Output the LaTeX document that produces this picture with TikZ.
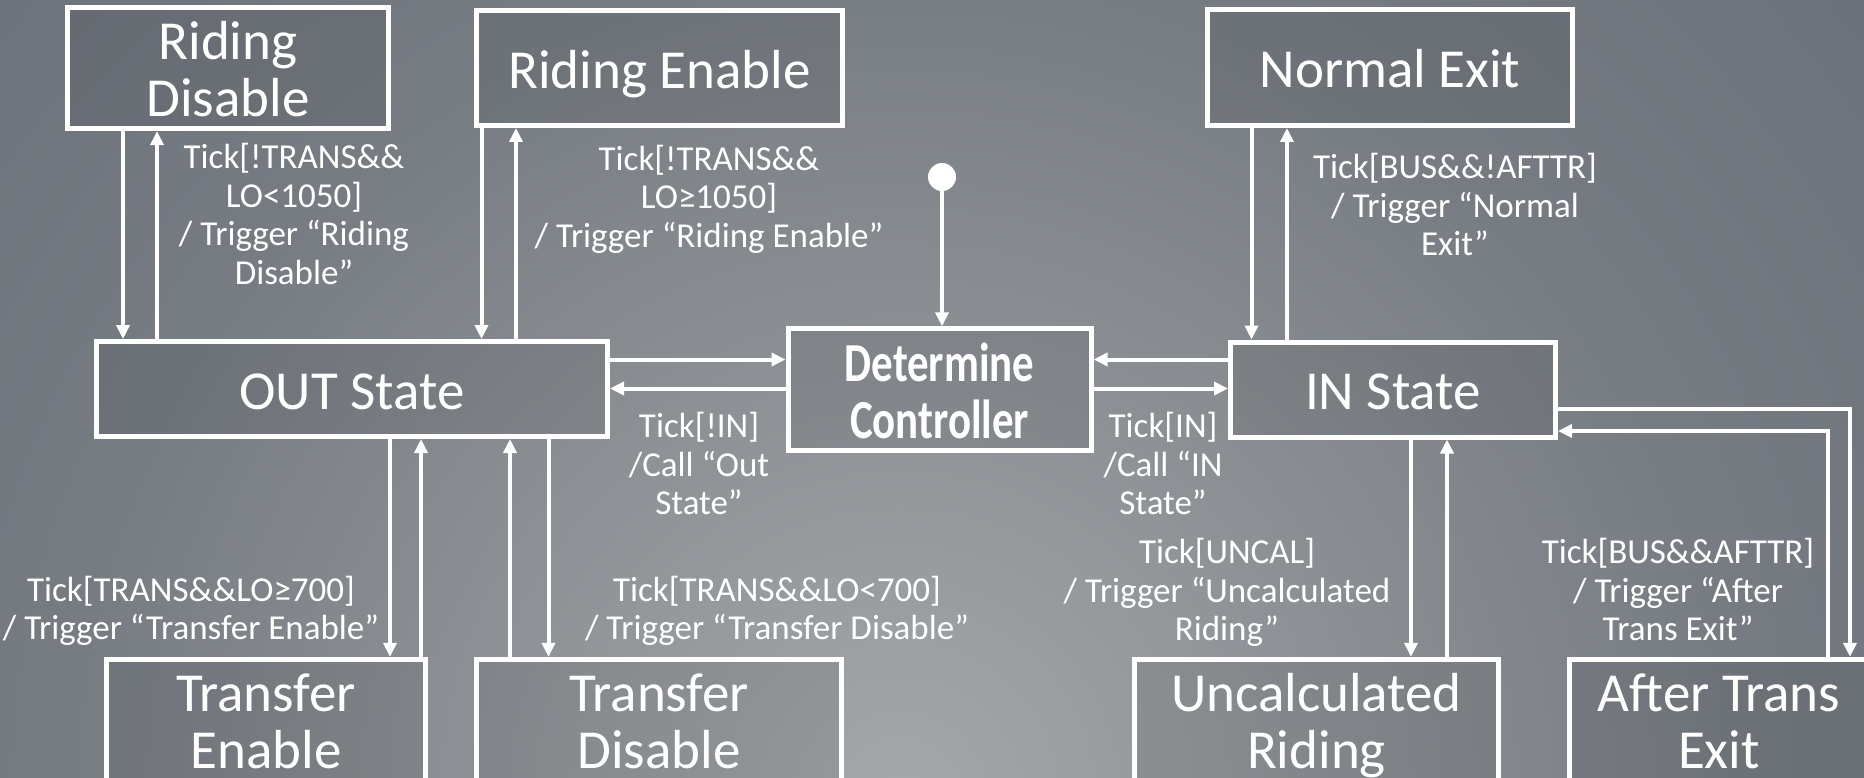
\documentclass[tikz,border=0pt]{standalone}
\usepackage{fontspec}
\setmainfont{Carlito}
\usepackage{graphicx}
\usetikzlibrary{arrows.meta}
\definecolor{bgA}{HTML}{A4A8AA}
\definecolor{bgB}{HTML}{8E9296}
\definecolor{bgC}{HTML}{777C83}
\definecolor{bgD}{HTML}{686E76}
\definecolor{bgE}{HTML}{5E646C}
\definecolor{bgF}{HTML}{596068}
\pgfdeclareradialshading{bgshade}{\pgfpoint{0bp}{0bp}}{color(0bp)=(bgA); color(8bp)=(bgB); color(16bp)=(bgC); color(27bp)=(bgD); color(40bp)=(bgE); color(50bp)=(bgF)}
\newcommand\boxfont{\fontsize{55}{57}\selectfont}
\newcommand\lblfont{\fontsize{35}{38.5}\selectfont}
\newcommand\bst{\rule{0pt}{0.95em}}
\newcommand\bsd{\rule[-0.22em]{0pt}{0.22em}}
\newcommand\lst{\rule{0pt}{0.8em}}
\newcommand\lsd{\rule[-0.25em]{0pt}{0.25em}}
\newcommand\cond[1]{\scalebox{0.78}[1]{#1}}
\tikzset{
  statebox/.style={draw=white, line width=5pt, fill=black, fill opacity=0.08, text opacity=1, text=white, font=\boxfont, align=center, inner sep=0pt},
  lbl/.style={text=white, font=\lblfont, align=center, inner sep=0pt},
  arr/.style={draw=white, line width=4pt, -{Triangle[length=14pt,width=13pt]}}
}
\begin{document}
\begin{tikzpicture}[x=1pt,y=-1pt]
\useasboundingbox (0,0) rectangle (1864,778);
\clip (0,0) rectangle (1864,778);
\shade[shading=bgshade] (900,800) circle [radius=1300pt];

% states
\node[statebox, minimum width=321pt, minimum height=115pt] (RD) at (228,68) {\bst Riding\\Disable\bsd};
\node[statebox, minimum width=366pt, minimum height=115pt] (RE) at (659.5,68) {\bst Riding Enable\bsd};
\node[statebox, minimum width=365pt, minimum height=116pt] (NE) at (1390,67.5) {\bst Normal Exit\bsd};
\node[statebox, minimum width=511pt, minimum height=95pt] (OUT) at (352,389) {\bst OUT State\bsd};
\node[statebox, minimum width=303pt, minimum height=118pt, font=\boxfont\bfseries] (DC) at (939.5,389.5) {\bst\cond{Determine}\\\cond{Controller}\bsd};
\node[statebox, minimum width=325pt, minimum height=95pt] (IN) at (1393,389.5) {\bst IN State\bsd};
\node[statebox, minimum width=319pt, minimum height=115pt] (TE) at (266,720) {\bst Transfer\\Enable\bsd};
\node[statebox, minimum width=365pt, minimum height=115pt] (TD) at (659,720) {\bst Transfer\\Disable\bsd};
\node[statebox, minimum width=364pt, minimum height=115pt] (UR) at (1316.5,720) {\bst Uncalculated\\Riding\bsd};
\node[statebox, minimum width=299pt, minimum height=115pt] (ATE) at (1719,720) {\bst After Trans\\Exit\bsd};

% initial
\node[circle, fill=white, minimum size=28pt, inner sep=0pt] (init) at (942,177) {};
\draw[arr] (init.south) -- (DC.north -| init.south);

% x positions of vertical connectors
\coordinate (c1) at (123,0);
\coordinate (c2) at (157,0);
\coordinate (c3) at (481.5,0);
\coordinate (c4) at (516,0);
\coordinate (c5) at (1251.5,0);
\coordinate (c6) at (1287,0);
\coordinate (c7) at (390,0);
\coordinate (c8) at (421,0);
\coordinate (c9) at (510,0);
\coordinate (c10) at (548.5,0);
\coordinate (c11) at (1411,0);
\coordinate (c12) at (1447,0);
% y positions of horizontal connectors
\coordinate (h1) at (0,359.5);
\coordinate (h2) at (0,388.5);
% right loop
\coordinate (r1) at (1850,409);
\coordinate (r2) at (1828,431);

\draw[arr] (RD.south -| c1) -- (OUT.north -| c1);
\draw[arr] (OUT.north -| c2) -- (RD.south -| c2);
\draw[arr] (RE.south -| c3) -- (OUT.north -| c3);
\draw[arr] (OUT.north -| c4) -- (RE.south -| c4);
\draw[arr] (NE.south -| c5) -- (IN.north -| c5);
\draw[arr] (IN.north -| c6) -- (NE.south -| c6);
\draw[arr] (OUT.south -| c7) -- (TE.north -| c7);
\draw[arr] (TE.north -| c8) -- (OUT.south -| c8);
\draw[arr] (TD.north -| c9) -- (OUT.south -| c9);
\draw[arr] (OUT.south -| c10) -- (TD.north -| c10);
\draw[arr] (IN.south -| c11) -- (UR.north -| c11);
\draw[arr] (UR.north -| c12) -- (IN.south -| c12);

\draw[arr] (OUT.east |- h1) -- (DC.west |- h1);
\draw[arr] (DC.west |- h2) -- (OUT.east |- h2);
\draw[arr] (IN.west |- h1) -- (DC.east |- h1);
\draw[arr] (DC.east |- h2) -- (IN.west |- h2);

\draw[arr] (IN.east |- r1) -| (ATE.north -| r1);
\draw[arr] (ATE.north -| r2) |- (IN.east |- r2);

% labels
\node[lbl] (lRD) at (294,217) {\lst Tick[!TRANS\&\&\\LO<1050]\\/ Trigger “Riding\\Disable”\lsd};
\node[lbl] (lRE) at (709,199) {\lst Tick[!TRANS\&\&\\LO≥1050]\\/ Trigger “Riding Enable”\lsd};
\node[lbl] (lNE) at (1455,207.5) {\lst Tick[BUS\&\&!AFTTR]\\/ Trigger “Normal\\Exit”\lsd};
\node[lbl] (lOUT) at (699,466.5) {\lst Tick[!IN]\\/Call “Out\\State”\lsd};
\node[lbl] (lIN) at (1163,466.5) {\lst Tick[IN]\\/Call “IN\\State”\lsd};
\node[lbl] (lTE) at (191,611) {\lst Tick[TRANS\&\&LO≥700]\\/ Trigger “Transfer Enable”\lsd};
\node[lbl] (lTD) at (777,611) {\lst Tick[TRANS\&\&LO<700]\\/ Trigger “Transfer Disable”\lsd};
\node[lbl] (lUR) at (1227,592.5) {\lst Tick[UNCAL]\\/ Trigger “Uncalculated\\Riding”\lsd};
\node[lbl] (lATE) at (1678,592.5) {\lst Tick[BUS\&\&AFTTR]\\/ Trigger “After\\Trans Exit”\lsd};
\end{tikzpicture}
\end{document}
